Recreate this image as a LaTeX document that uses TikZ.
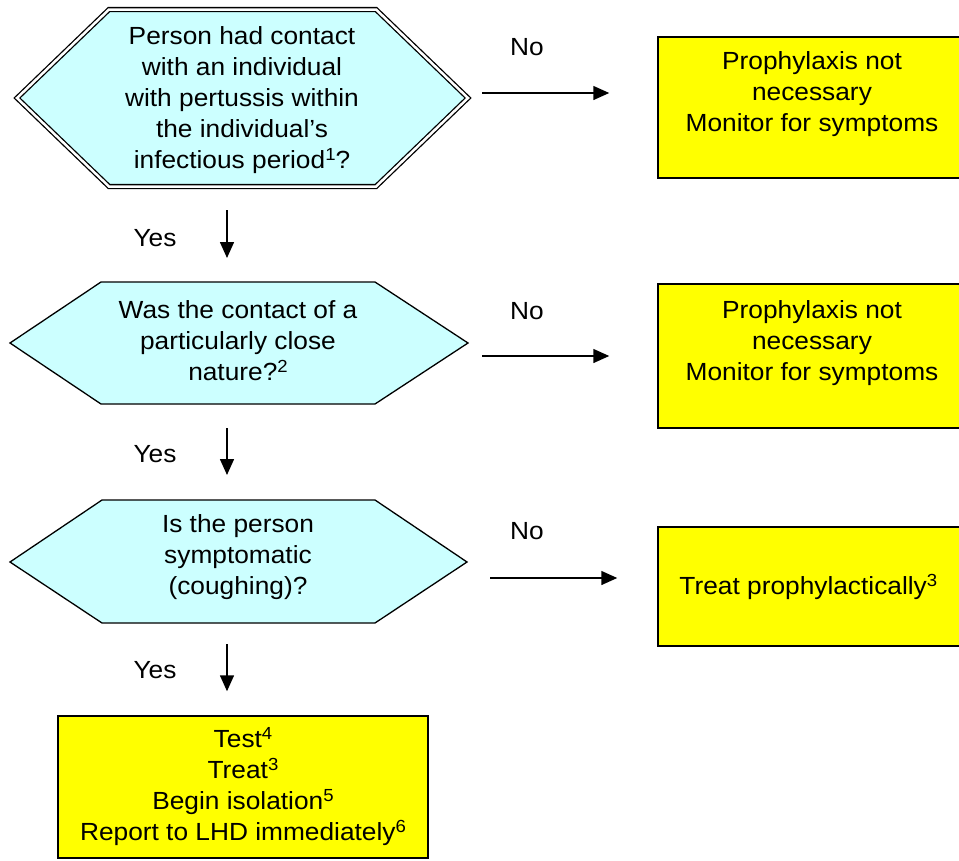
\documentclass[tikz,border=0pt]{standalone}
\usepackage{fontspec}
\setmainfont{Liberation Sans}[FakeStretch=1.06]
\usetikzlibrary{arrows.meta}
\usetikzlibrary{positioning}
\definecolor{hexcyan}{RGB}{204,255,255}
\definecolor{boxyellow}{RGB}{255,255,0}
\newcommand{\flowfont}{\fontsize{24.8}{31}\selectfont}
\newcommand{\fnmark}[1]{\raisebox{8pt}{\fontsize{17.5}{17.5}\selectfont #1}}
\tikzstyle{arrow} = [line width=1.5pt,-{Triangle[length=16pt,width=14pt]}]
\tikzstyle{decision} = [draw=black, line width=1.3pt, fill=hexcyan]
\tikzstyle{question} = [align=center, inner sep=0pt, font=\flowfont]
\tikzstyle{action} = [
    rectangle, minimum width=308pt, draw=black, line width=1.5pt,
    fill=boxyellow, align=center, inner sep=0pt, font=\flowfont]
\tikzstyle{answer} = [inner sep=0pt, font=\flowfont]

\begin{document}
\begin{tikzpicture}[x=1pt, y=-1pt]
\useasboundingbox (0,0) rectangle (959,860);
\clip (0,0) rectangle (959,860);

% decisions
\draw [decision, double=white, double distance=2.5pt]
    (17,98) -- (109,9.5) -- (376,9.5) -- (468,98) -- (376,186.5) -- (109,186.5) -- cycle;
\draw [decision] (10,343) -- (101,282) -- (375,282) -- (468,343) -- (375,404) -- (101,404) -- cycle;
\draw [decision] (10,562) -- (102,500) -- (375,500) -- (467,562) -- (375,623) -- (102,623) -- cycle;

\node (q1) [question] at (242,100) {
    Person had contact \\
    with an individual \\
    with pertussis within \\
    the individual’s \\
    infectious period\fnmark{1}?
};
\node (q2) [question] at (238,341) {
    Was the contact of a \\
    particularly close \\
    nature?\fnmark{2}
};
\node (q3) [question] at (238,557) {
    Is the person \\
    symptomatic \\
    (coughing)?
};

% vertices of the decisions
\coordinate (q1e) at (470,93);
\coordinate (q2e) at (468,356);
\coordinate (q3e) at (467,578);
\coordinate (q1s) at (227,189);
\coordinate (q2n) at (227,282);
\coordinate (q2s) at (227,404);
\coordinate (q3n) at (227,500);
\coordinate (q3s) at (227,623);

% actions
\node (act1) [action, minimum height=141pt] at (812,107.5) {
    Prophylaxis not \\
    necessary \\
    Monitor for symptoms \\
    ~
};
\node (act2) [action, minimum height=144pt] at (812,356) {
    Prophylaxis not \\
    necessary \\
    Monitor for symptoms \\
    ~
};
\node (act3) [action, minimum height=119pt] at (812,586.5) {
    Treat prophylactically\fnmark{3}
};
\node (act4) [action, minimum width=370pt, minimum height=142pt] at (243,787) {
    Test\fnmark{4} \\
    Treat\fnmark{3} \\
    Begin isolation\fnmark{5} \\
    Report to LHD immediately\fnmark{6}
};

% answers
\node (no1) [answer] at (527,47) {No};
\node (no2) [answer] at (527,311) {No};
\node (no3) [answer] at (527,531) {No};
\node (yes1) [answer] at (155,238) {Yes};
\node (yes2) [answer] at (155,454) {Yes};
\node (yes3) [answer] at (155,670) {Yes};

\draw [arrow, shorten <=12pt, shorten >=48pt] (q1e) -- (q1e -| act1.west);
\draw [arrow, shorten <=14pt, shorten >=48pt] (q2e) -- (q2e -| act2.west);
\draw [arrow, shorten <=23pt, shorten >=40pt] (q3e) -- (q3e -| act3.west);
\draw [arrow, shorten <=21pt, shorten >=24pt] (q1s) -- (q2n);
\draw [arrow, shorten <=24pt, shorten >=25pt] (q2s) -- (q3n);
\draw [arrow, shorten <=21pt, shorten >=24pt] (q3s) -- (q3s |- act4.north);
\end{tikzpicture}
\end{document}
